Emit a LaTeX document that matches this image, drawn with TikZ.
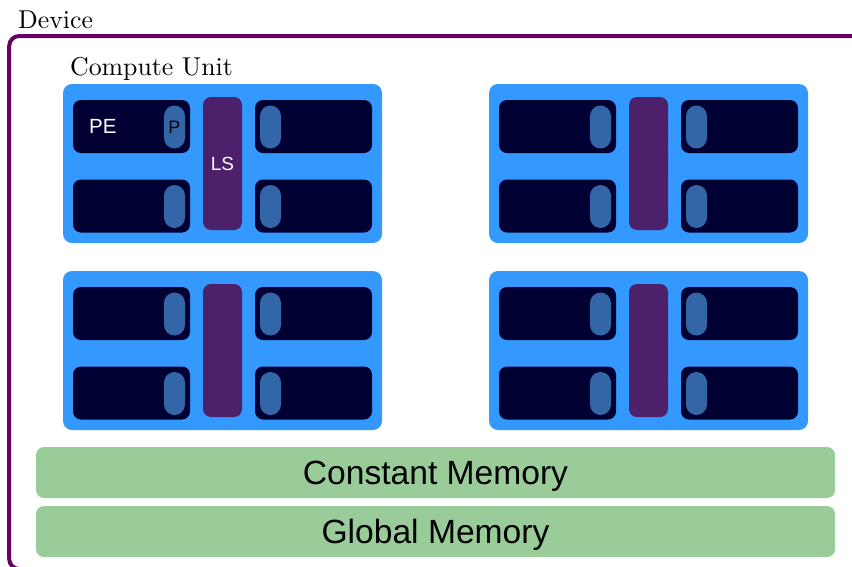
\documentclass[tikz,border=0pt]{standalone}
\usepackage{fontspec}
\setsansfont{Liberation Sans}
\definecolor{cublue}{RGB}{51,153,255}
\definecolor{pedark}{RGB}{0,0,51}
\definecolor{pillblue}{RGB}{51,102,166}
\definecolor{lspurple}{RGB}{77,32,108}
\definecolor{devpurple}{RGB}{102,0,102}
\definecolor{memgreen}{RGB}{153,204,153}
\newcommand{\serifbig}[1]{\scalebox{2.58}{\fontsize{10}{12}\selectfont #1}}
\tikzset{
  box/.style={rectangle, inner sep=0pt, outer sep=0pt},
  cubox/.style={box, fill=cublue, rounded corners=9pt, minimum width=319pt, minimum height=159pt},
  pebox/.style={box, fill=pedark, rounded corners=8pt, minimum width=117pt, minimum height=53pt},
  pillbox/.style={box, fill=pillblue, rounded corners=10.5pt, minimum width=21pt, minimum height=43pt,
    font=\sffamily\fontsize{18}{20}\selectfont, text=black},
  lsbox/.style={box, fill=lspurple, rounded corners=8pt, minimum width=39pt, minimum height=133pt,
    font=\sffamily\fontsize{19}{22}\selectfont, text=white},
  membox/.style={box, fill=memgreen, rounded corners=8pt, minimum width=799pt, minimum height=51pt,
    font=\sffamily\fontsize{33.6}{38}\selectfont, text=black, text depth=0pt},
  serlabel/.style={anchor=base west, inner sep=0pt},
  pelabel/.style={anchor=base west, inner sep=0pt, font=\sffamily\fontsize{20.5}{24}\selectfont, text=white},
}
\begin{document}
\begin{tikzpicture}[x=1pt, y=-1pt]
  \useasboundingbox (0,0) rectangle (852,566);
  \clip (0,0) rectangle (852,566);

  % device outline, running past the right and lower edges
  \draw[devpurple, line width=4pt, rounded corners=10pt] (9.2,36) rectangle (900,569);
  \node[serlabel] (devlabel) at (18,28) {\serifbig{Device}};
  \node[serlabel] (culabel) at (70,75) {\serifbig{Compute Unit}};

  % four compute units, each with four PEs, their private memories and a local store
  \foreach \cx/\cy/\n in {0/0/a, 426/0/b, 0/187/c, 426/187/d} {
    \begin{scope}[shift={(\cx,\cy)}]
      \node[cubox] (cu\n) at (222.5,163.5) {};
      \node[pebox] (pe\n1) at (131.5,126.5) {};
      \node[pebox] (pe\n2) at (131.5,206) {};
      \node[pebox] (pe\n3) at (313.5,126.5) {};
      \node[pebox] (pe\n4) at (313.5,206) {};
      \node[pillbox] (pm\n2) at (174.5,206.5) {};
      \node[pillbox] (pm\n3) at (270.5,127) {};
      \node[pillbox] (pm\n4) at (270.5,206.5) {};
    \end{scope}
  }
  % labelled parts of the first compute unit, plain ones elsewhere
  \node[pillbox] (pma1) at (174.5,127) {P};
  \node[lsbox] (lsa) at (222.5,163.5) {LS};
  \node[lsbox] (lsb) at (648.5,163.5) {};
  \node[lsbox] (lsc) at (222.5,350.5) {};
  \node[lsbox] (lsd) at (648.5,350.5) {};
  \node[pillbox] (pmb1) at (600.5,127) {};
  \node[pillbox] (pmc1) at (174.5,314) {};
  \node[pillbox] (pmd1) at (600.5,314) {};
  \node[pelabel] (pelabel) at (89,133) {PE};

  % shared memories
  \node[membox] (constmem) at (435.5,472.5) {Constant Memory};
  \node[membox] (globmem) at (435.5,531.5) {Global Memory};
\end{tikzpicture}
\end{document}
